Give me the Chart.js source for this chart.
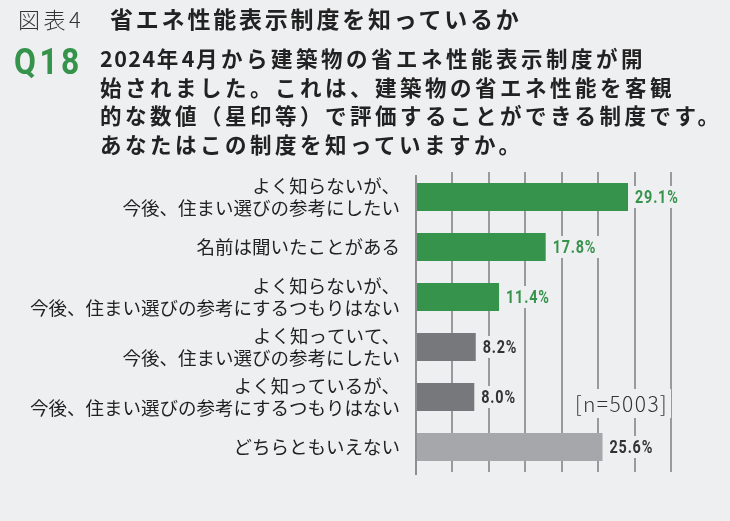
<!DOCTYPE html>
<html lang="ja">
<head>
<meta charset="utf-8">
<script src="https://cdn.jsdelivr.net/npm/chart.js@4"></script>
<style>
  html, body { margin: 0; padding: 0; background: #eeeff1; }
  #wrap { position: relative; width: 730px; height: 521px; overflow: hidden; background: #eeeff1; }
  #c { position: absolute; left: 0; top: 0; }
  .t { position: absolute; white-space: nowrap; font-family: "Noto Sans CJK JP", sans-serif; color: #222; }
  #fig { left: 18px; top: 2px; font-size: 22px; font-weight: 300; letter-spacing: 3.5px; color: #333; }
  #title { left: 110px; top: 1px; font-size: 23px; font-weight: 700; letter-spacing: 2.8px; }
  #q { left: 14px; top: 40px; font-family: Roboto, sans-serif; font-size: 37px; font-weight: 700; color: #36934c; letter-spacing: 4px; transform: scaleX(0.86); transform-origin: left top; }
  #qt { left: 100px; top: 44px; font-size: 21.5px; font-weight: 700; line-height: 28.7px; letter-spacing: 3.5px; }
  #qt .d { letter-spacing: 1.5px; }
  #n { left: 572px; top: 389px; font-size: 21px; font-weight: 300; letter-spacing: 1.4px; background: #eeeff1; padding: 0 3px; line-height: 29px; color: #333; }
</style>
</head>
<body>
<div id="wrap">
  <canvas id="c" width="730" height="521"></canvas>
  <div class="t" id="fig">図表4</div>
  <div class="t" id="title">省エネ性能表示制度を知っているか</div>
  <div class="t" id="q">Q18</div>
  <div class="t" id="qt"><span class="d">2024</span>年<span class="d">4</span>月から建築物の省エネ性能表示制度が開<br>始されました。これは、建築物の省エネ性能を客観<br>的な数値（星印等）で評価することができる制度です。<br>あなたはこの制度を知っていますか。</div>
  <div class="t" id="n">[n=5003]</div>
</div>
<script>
const categories = [
  ["よく知らないが、", "今後、住まい選びの参考にしたい"],
  ["名前は聞いたことがある"],
  ["よく知らないが、", "今後、住まい選びの参考にするつもりはない"],
  ["よく知っていて、", "今後、住まい選びの参考にしたい"],
  ["よく知っているが、", "今後、住まい選びの参考にするつもりはない"],
  ["どちらともいえない"]
];
const values = [29.1, 17.8, 11.4, 8.2, 8.0, 25.6];
const valueLabels = ["29.1%", "17.8%", "11.4%", "8.2%", "8.0%", "25.6%"];
const barColors = ["#36934c", "#36934c", "#36934c", "#77787b", "#77787b", "#a6a7aa"];
const labelColors = ["#36934c", "#36934c", "#36934c", "#333333", "#333333", "#333333"];
const axisMax = 35;
const axisStep = 5;

const BG = "#eeeff1";

const valueLabelPlugin = {
  id: "valueLabels",
  beforeDatasetsDraw(chart) {
    const ctx = chart.ctx, a = chart.chartArea;
    ctx.save();
    ctx.strokeStyle = "#8f8f91";
    ctx.lineWidth = 2;
    ctx.beginPath();
    ctx.moveTo(a.left, a.top + 3);
    ctx.lineTo(a.left, a.bottom + 3);
    ctx.stroke();
    ctx.restore();
  },
  afterDatasetsDraw(chart) {
    const ctx = chart.ctx;
    const meta = chart.getDatasetMeta(0);
    const sx = 0.8;
    ctx.save();
    ctx.font = "bold 18px Roboto, sans-serif";
    ctx.letterSpacing = "1px";
    ctx.textBaseline = "middle";
    ctx.textAlign = "left";
    meta.data.forEach((bar, i) => {
      const txt = valueLabels[i];
      const x = bar.x + 7;
      const y = bar.y;
      const w = ctx.measureText(txt).width * sx;
      ctx.fillStyle = BG;
      ctx.fillRect(x - 3, y - 11, w + 6, 22);
      ctx.save();
      ctx.translate(x, y + 1);
      ctx.scale(sx, 1);
      ctx.fillStyle = labelColors[i];
      ctx.fillText(txt, 0, 0);
      ctx.restore();
    });
    ctx.restore();
  }
};

new Chart(document.getElementById("c"), {
  type: "bar",
  data: {
    labels: categories,
    datasets: [{
      data: values,
      backgroundColor: barColors,
      borderWidth: 0,
      barPercentage: 0.56,
      categoryPercentage: 1
    }]
  },
  options: {
    indexAxis: "y",
    responsive: false,
    animation: false,
    devicePixelRatio: 1,
    layout: { padding: { top: 172, right: 59, bottom: 49, left: 0 } },
    plugins: { legend: { display: false }, tooltip: { enabled: false } },
    scales: {
      x: {
        min: 0, max: axisMax,
        ticks: { display: false, stepSize: axisStep },
        grid: {
          drawTicks: false,
          lineWidth: 2,
          color: (c) => (c.tick && c.tick.value === 0) ? "rgba(0,0,0,0)" : "#9a9a9c"
        },
        border: { display: false },
        afterFit(s) { s.height = 0; }
      },
      y: {
        grid: { display: false, drawTicks: false },
        border: { display: false },
        ticks: {
          color: "#222",
          padding: 16,
          font: { family: "'Noto Sans CJK JP', sans-serif", size: 18.5, lineHeight: 1.15 }
        },
        afterFit(s) { s.width = 416; }
      }
    }
  },
  plugins: [valueLabelPlugin]
});
</script>
</body>
</html>
